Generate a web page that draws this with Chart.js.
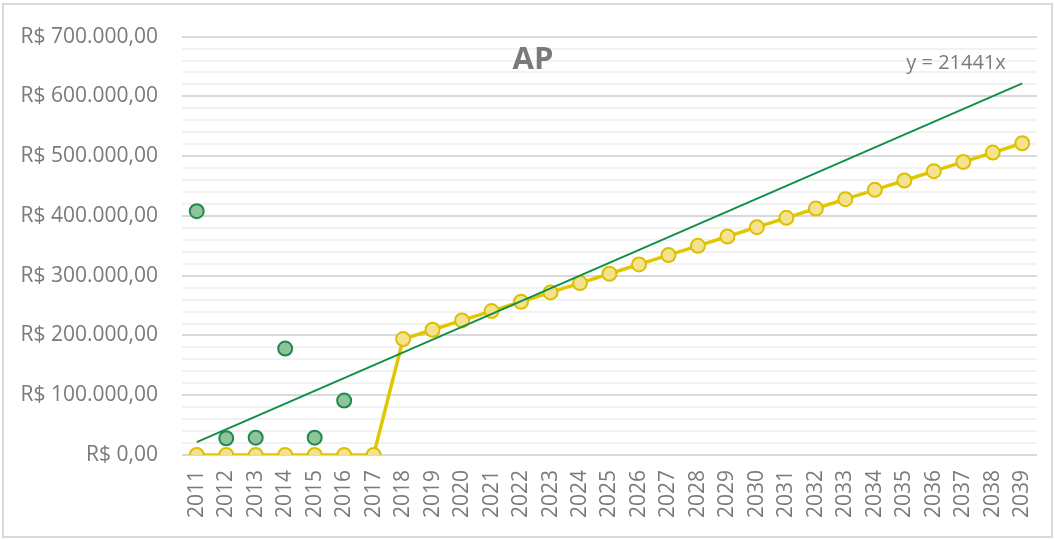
<!DOCTYPE html>
<html>
<head>
<meta charset="utf-8">
<script src="https://cdn.jsdelivr.net/npm/chart.js@4.4.0/dist/chart.umd.min.js"></script>
<style>
  html, body { margin: 0; padding: 0; background: #ffffff; }
  #wrap { position: relative; width: 1055px; height: 540px; }
</style>
</head>
<body>
<div id="wrap"><canvas id="c" width="1055" height="540"></canvas></div>
<script>
const years = ['2011','2012','2013','2014','2015','2016','2017','2018','2019','2020','2021','2022','2023','2024','2025','2026','2027','2028','2029','2030','2031','2032','2033','2034','2035','2036','2037','2038','2039'];
const realizedValues = [408000, 28000, 29000, 178000, 29000, 91000];
const projectedValues = [0, 0, 0, 0, 0, 0, 0, 194000, 209600, 225200, 240800, 256400, 272000, 287600, 303200, 318800, 334400, 350000, 365600, 381200, 396800, 412400, 428000, 443600, 459200, 474800, 490400, 506000, 521600];
const trendStart = 21441;
const trendEnd = 621789;
const trendLabel = 'y = 21441x';
const chartTitle = 'AP';
const yMax = 700000;
const yMajorStep = 100000;
const yMinorStep = 20000;

const realizedSeries = years.map((y, i) => i < realizedValues.length ? realizedValues[i] : null);
const trendSeries = years.map((y, i) => i === 0 ? trendStart : (i === years.length - 1 ? trendEnd : null));

function brl(v) {
  const s = Math.round(v).toString().replace(/\B(?=(\d{3})+(?!\d))/g, '.');
  return 'R$ ' + s + ',00';
}

const FONT = "'Open Sans', 'Liberation Sans', sans-serif";
const GRAY = '#7a7a7a';

const decor = {
  id: 'decor',
  beforeDraw(chart) {
    const ctx = chart.ctx;
    ctx.save();
    ctx.fillStyle = '#ffffff';
    ctx.fillRect(0, 0, chart.width, chart.height);
    ctx.strokeStyle = '#d9d9d9';
    ctx.lineWidth = 2;
    ctx.strokeRect(3, 4, chart.width - 6, chart.height - 7);
    ctx.restore();
  },
  afterDraw(chart) {
    const ctx = chart.ctx;
    const x = chart.scales.x, y = chart.scales.y;
    ctx.save();
    ctx.fillStyle = GRAY;
    ctx.font = "bold 31px " + FONT;
    ctx.textAlign = 'center';
    ctx.textBaseline = 'middle';
    ctx.fillText(chartTitle, x.getPixelForValue(11) + 12, y.getPixelForValue(660000));
    ctx.font = "20px " + FONT;
    ctx.textAlign = 'left';
    ctx.fillText(trendLabel, x.getPixelForValue(24) + 2, y.getPixelForValue(655000));
    ctx.restore();
  }
};

new Chart(document.getElementById('c'), {
  type: 'line',
  data: {
    labels: years,
    datasets: [
      {
        label: 'Linear',
        data: trendSeries,
        spanGaps: true,
        borderColor: '#108f48',
        borderWidth: 2,
        pointRadius: 0,
        order: 0
      },
      {
        label: 'Realizado',
        data: realizedSeries,
        showLine: false,
        pointRadius: 7,
        pointBackgroundColor: '#8fc49a',
        pointBorderColor: '#1d8a4c',
        pointBorderWidth: 2,
        order: 1
      },
      {
        label: 'Projetado',
        data: projectedValues,
        borderColor: '#e2c600',
        borderWidth: 3.5,
        pointRadius: 7,
        pointBackgroundColor: '#f5e28f',
        pointBorderColor: '#dcc000',
        pointBorderWidth: 2,
        order: 2
      }
    ]
  },
  options: {
    responsive: false,
    animation: false,
    layout: { padding: { top: 32, right: 18, left: 0, bottom: 0 } },
    plugins: { legend: { display: false }, tooltip: { enabled: false }, title: { display: false } },
    scales: {
      x: {
        offset: true,
        grid: { display: false, drawTicks: false },
        border: { display: false },
        ticks: {
          autoSkip: false,
          minRotation: 90,
          maxRotation: 90,
          padding: 15,
          color: GRAY,
          font: { family: FONT, size: 21 }
        },
        afterFit(s) { s.height = 85; s.paddingRight = 0; s.paddingLeft = 0; }
      },
      y: {
        min: 0,
        max: yMax,
        grid: {
          drawTicks: false,
          lineWidth: 2,
          color: c => (c.tick && c.tick.value % yMajorStep === 0) ? '#d9d9d9' : '#f2f2f2'
        },
        border: { display: false },
        afterBuildTicks(s) {
          const t = [];
          for (let v = 0; v <= yMax; v += yMinorStep) t.push({ value: v });
          s.ticks = t;
        },
        ticks: {
          autoSkip: false,
          padding: 24,
          color: GRAY,
          font: { family: FONT, size: 21 },
          callback: v => (v % yMajorStep === 0) ? brl(v) : ''
        },
        afterFit(s) { s.width = 182; }
      }
    }
  },
  plugins: [decor]
});
</script>
</body>
</html>
